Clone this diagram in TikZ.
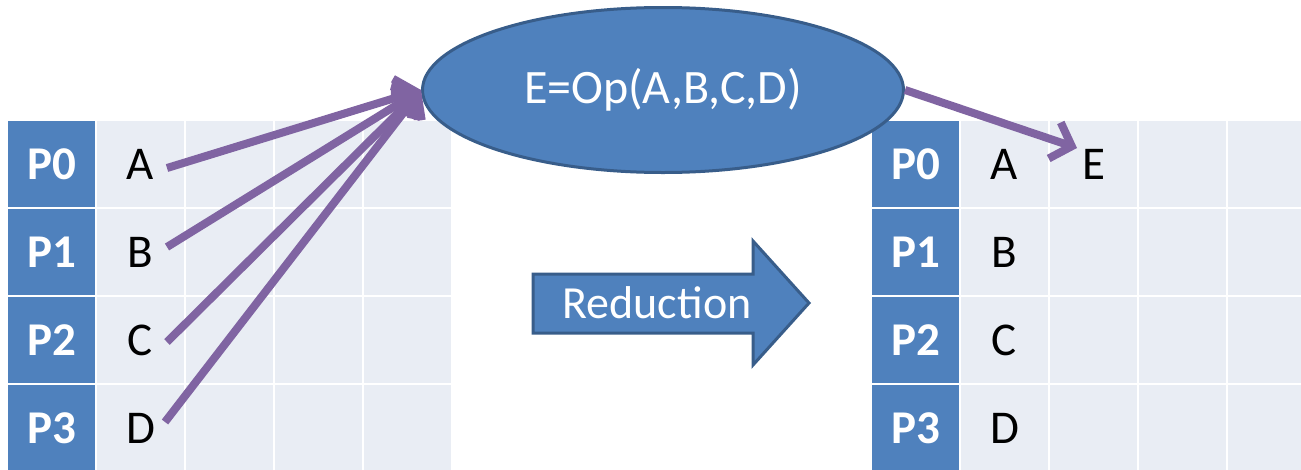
\documentclass[tikz,border=0pt]{standalone}
\usepackage{fontspec}
\setmainfont{Carlito}
\usetikzlibrary{shapes.geometric,arrows.meta}
\definecolor{pblue}{HTML}{4F81BD}
\definecolor{pedge}{HTML}{385D8A}
\definecolor{cellbg}{HTML}{E9EDF4}
\definecolor{flow}{HTML}{8064A2}
\tikzset{
  pcell/.style={fill=pblue, minimum width=87pt, minimum height=86pt, inner sep=0pt,
    text=white, font=\bfseries\fontsize{47}{47}\selectfont},
  dcell/.style={fill=cellbg, minimum width=87pt, minimum height=86pt, inner sep=0pt,
    text=black, font=\fontsize{47}{47}\selectfont},
  opnode/.style={ellipse, fill=pblue, draw=pedge, line width=3pt, inner sep=0pt,
    minimum width=481pt, minimum height=165pt, text=white,
    font=\fontsize{48}{48}\selectfont},
  bigarrow/.style={fill=pblue, draw=pedge, line width=3pt, line join=miter},
  flowarrow/.style={draw=flow, line width=8pt,
    -{Straight Barb[length=18pt,width=38pt,line width=8pt]}},
}
\begin{document}
\begin{tikzpicture}[x=1pt,y=-1pt]
  \clip (0,0) rectangle (1301,469);
  \fill[white] (0,0) rectangle (1301,469);

  % two process tables: label column plus four data columns
  \foreach \t/\dx in {L/8, R/872} {
    \foreach \r in {0,...,3} {
      \node[pcell] (\t-\r-0) at (\dx+43.5, 164+88*\r) {P\r};
      \foreach \c in {1,...,4}
        \node[dcell] (\t-\r-\c) at (\dx+43.5+89*\c, 164+88*\r) {};
    }
  }

  % values held by each process
  \foreach \t in {L,R} {
    \node[dcell, fill=none] at (\t-0-1) {A};
    \node[dcell, fill=none] at (\t-1-1) {B};
    \node[dcell, fill=none] at (\t-2-1) {C};
    \node[dcell, fill=none] at (\t-3-1) {D};
  }
  \node[dcell, fill=none] (res) at (R-0-2) {E};

  % the reduction operation
  \node[opnode] (op) at (663,90) {E=Op(A,B,C,D)};

  % block arrow
  \draw[bigarrow] (533,274) -- (753,274) -- (753,241) -- (809,303)
    -- (753,365) -- (753,333) -- (533,333) -- cycle;
  \node[text=white, font=\fontsize{46}{46}\selectfont] (red) at (657,303) {Reduction};

  % data flow
  \coordinate (sA) at (167,168);
  \coordinate (sB) at (167,247);
  \coordinate (sC) at (167,342);
  \coordinate (sD) at (165,422);
  \coordinate (eT) at (1077,148);
  \foreach \s in {sA,sB,sC,sD}
    \draw[flowarrow] (\s) -- (op.west);
  \draw[flowarrow] (op.east) -- (eT);
\end{tikzpicture}
\end{document}
